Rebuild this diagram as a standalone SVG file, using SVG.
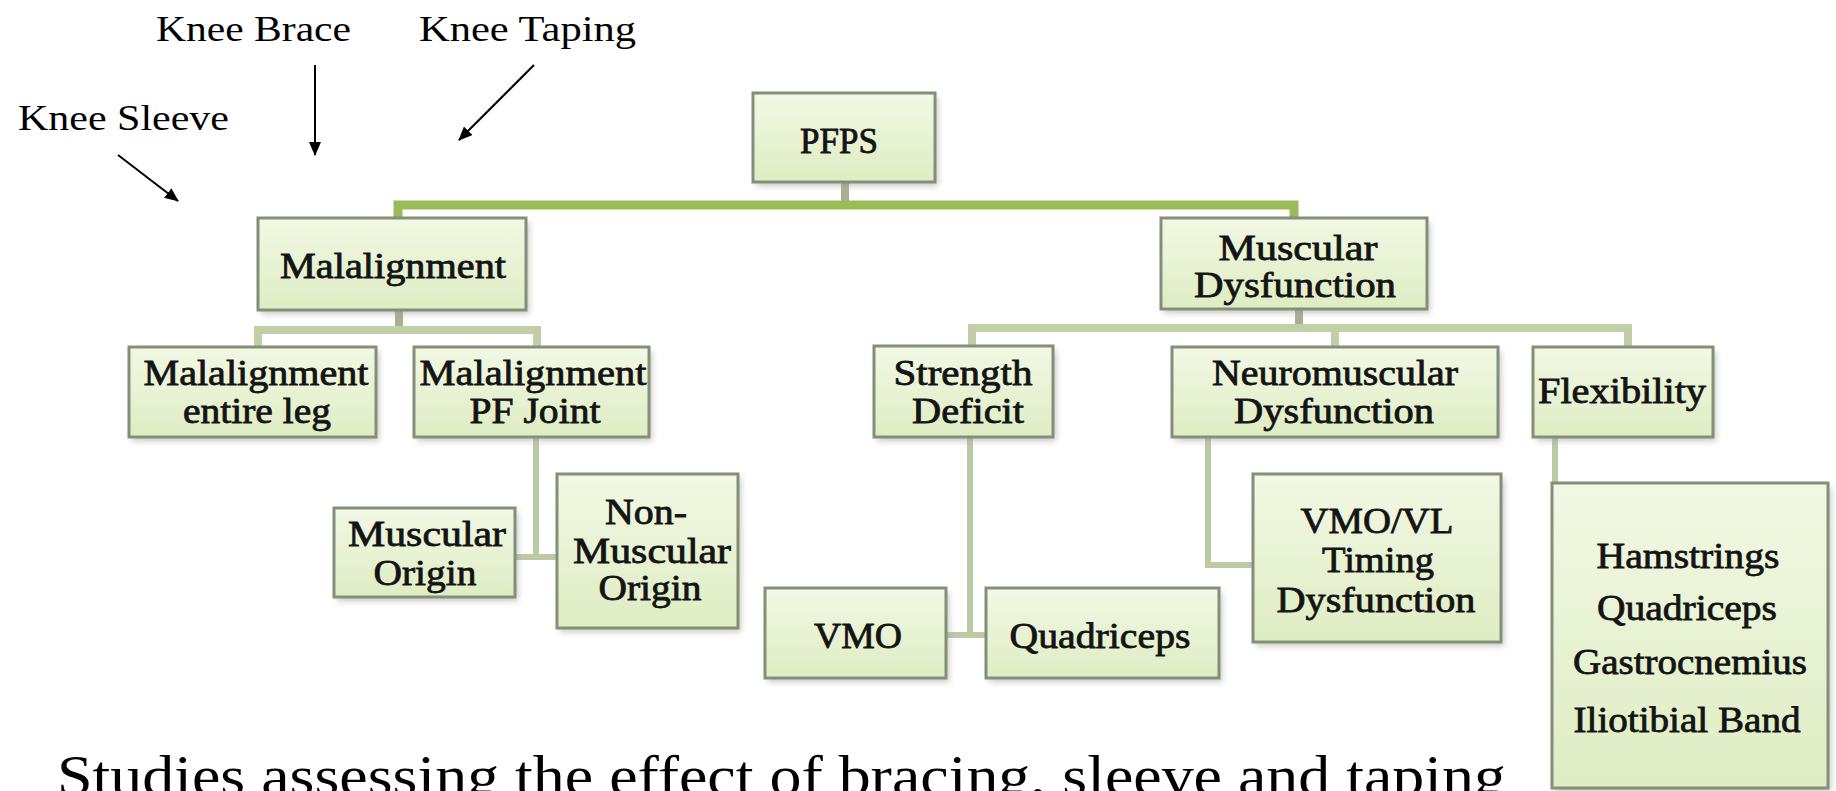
<svg xmlns="http://www.w3.org/2000/svg" width="1836" height="791" viewBox="0 0 1836 791">
<defs>
  <linearGradient id="boxFill" x1="0" y1="0" x2="0" y2="1">
    <stop offset="0" stop-color="#f2f8e4"/>
    <stop offset="1" stop-color="#deedc3"/>
  </linearGradient>
  <filter id="shadow" x="-10%" y="-10%" width="130%" height="130%">
    <feGaussianBlur stdDeviation="3"/>
  </filter>
  <marker id="arrow" viewBox="0 0 14 12" refX="13" refY="6" markerWidth="14" markerHeight="12" markerUnits="userSpaceOnUse" orient="auto">
    <path d="M0,0 L14,6 L0,12 Z" fill="#000"/>
  </marker>
</defs>
<style>
  .box { fill: url(#boxFill); stroke: #848f7a; stroke-width: 3; }
  .shd { fill: #9a9a90; opacity: 0.55; filter: url(#shadow); }
  .lbl { font-family: "Liberation Serif", "Times New Roman", serif; font-size: 36px; fill: #141414; stroke: #141414; stroke-width: 0.8; text-anchor: middle; }
  .top { font-family: "Liberation Serif", "Times New Roman", serif; font-size: 35px; fill: #000; }
  .big { font-family: "Liberation Serif", "Times New Roman", serif; font-size: 56px; fill: #000; }
  .c1 { stroke: #9bbb59; stroke-width: 9; fill: none; }
  .c2 { stroke: #c2cfa6; stroke-width: 8; fill: none; }
  .c3 { stroke: #bccaa4; stroke-width: 6; fill: none; }
  .stub { stroke: #a8b094; stroke-width: 8; fill: none; }
  .arr { stroke: #000; stroke-width: 2; fill: none; marker-end: url(#arrow); }
</style>
<rect x="0" y="0" width="1836" height="791" fill="#ffffff"/>

<g id="connectors">
  <line class="stub" x1="845" y1="182" x2="845" y2="205"/>
  <polyline class="c1" points="398,218 398,205 1294,205 1294,218"/>
  <line class="stub" x1="399" y1="310" x2="399" y2="330"/>
  <polyline class="c2" points="258,347 258,330 537,330 537,347"/>
  <line class="stub" x1="1299" y1="309" x2="1299" y2="328"/>
  <polyline class="c2" points="972,347 972,328 1628,328 1628,347"/>
  <line class="c2" x1="1335" y1="328" x2="1335" y2="347"/>
  <polyline class="c3" points="536,437 536,557 515,557"/>
  <line class="c3" x1="536" y1="557" x2="557" y2="557"/>
  <polyline class="c3" points="970,437 970,635 946,635"/>
  <line class="c3" x1="970" y1="635" x2="986" y2="635"/>
  <polyline class="c3" points="1208,437 1208,565 1253,565"/>
  <line class="c3" x1="1555" y1="437" x2="1555" y2="483"/>
</g>

<g id="pfps">
  <rect class="shd" x="756" y="97" width="182" height="89"/>
  <rect class="box" x="753" y="93" width="182" height="89"/>
  <text class="lbl" x="839" y="153" textLength="78" lengthAdjust="spacingAndGlyphs">PFPS</text>
</g>
<g id="malalignment">
  <rect class="shd" x="261" y="222" width="268" height="92"/>
  <rect class="box" x="258" y="218" width="268" height="92"/>
  <text class="lbl" x="393" y="278" textLength="226" lengthAdjust="spacingAndGlyphs">Malalignment</text>
</g>
<g id="muscular-dysfunction">
  <rect class="shd" x="1164" y="222" width="266" height="91"/>
  <rect class="box" x="1161" y="218" width="266" height="91"/>
  <text class="lbl" x="1298" y="260" textLength="159" lengthAdjust="spacingAndGlyphs">Muscular</text>
  <text class="lbl" x="1295" y="297" textLength="202" lengthAdjust="spacingAndGlyphs">Dysfunction</text>
</g>
<g id="malalignment-entire-leg">
  <rect class="shd" x="132" y="351" width="247" height="90"/>
  <rect class="box" x="129" y="347" width="247" height="90"/>
  <text class="lbl" x="256" y="385" textLength="225" lengthAdjust="spacingAndGlyphs">Malalignment</text>
  <text class="lbl" x="257" y="423" textLength="148" lengthAdjust="spacingAndGlyphs">entire leg</text>
</g>
<g id="malalignment-pf-joint">
  <rect class="shd" x="417" y="351" width="235" height="90"/>
  <rect class="box" x="414" y="347" width="235" height="90"/>
  <text class="lbl" x="533" y="385" textLength="227" lengthAdjust="spacingAndGlyphs">Malalignment</text>
  <text class="lbl" x="535" y="423" textLength="131" lengthAdjust="spacingAndGlyphs">PF Joint</text>
</g>
<g id="muscular-origin">
  <rect class="shd" x="337" y="512" width="181" height="89"/>
  <rect class="box" x="334" y="508" width="181" height="89"/>
  <text class="lbl" x="427" y="546" textLength="158" lengthAdjust="spacingAndGlyphs">Muscular</text>
  <text class="lbl" x="425" y="585" textLength="103" lengthAdjust="spacingAndGlyphs">Origin</text>
</g>
<g id="non-muscular-origin">
  <rect class="shd" x="560" y="478" width="181" height="154"/>
  <rect class="box" x="557" y="474" width="181" height="154"/>
  <text class="lbl" x="646" y="524" textLength="82" lengthAdjust="spacingAndGlyphs">Non-</text>
  <text class="lbl" x="652" y="563" textLength="158" lengthAdjust="spacingAndGlyphs">Muscular</text>
  <text class="lbl" x="650" y="600" textLength="103" lengthAdjust="spacingAndGlyphs">Origin</text>
</g>
<g id="strength-deficit">
  <rect class="shd" x="877" y="350" width="179" height="91"/>
  <rect class="box" x="874" y="346" width="179" height="91"/>
  <text class="lbl" x="963" y="385" textLength="139" lengthAdjust="spacingAndGlyphs">Strength</text>
  <text class="lbl" x="968" y="423" textLength="112" lengthAdjust="spacingAndGlyphs">Deficit</text>
</g>
<g id="neuromuscular-dysfunction">
  <rect class="shd" x="1175" y="351" width="326" height="90"/>
  <rect class="box" x="1172" y="347" width="326" height="90"/>
  <text class="lbl" x="1335" y="385" textLength="246" lengthAdjust="spacingAndGlyphs">Neuromuscular</text>
  <text class="lbl" x="1334" y="423" textLength="200" lengthAdjust="spacingAndGlyphs">Dysfunction</text>
</g>
<g id="flexibility">
  <rect class="shd" x="1536" y="351" width="180" height="90"/>
  <rect class="box" x="1533" y="347" width="180" height="90"/>
  <text class="lbl" x="1622" y="403" textLength="168" lengthAdjust="spacingAndGlyphs">Flexibility</text>
</g>
<g id="vmo">
  <rect class="shd" x="768" y="592" width="181" height="90"/>
  <rect class="box" x="765" y="588" width="181" height="90"/>
  <text class="lbl" x="858" y="648" textLength="88" lengthAdjust="spacingAndGlyphs">VMO</text>
</g>
<g id="quadriceps">
  <rect class="shd" x="989" y="592" width="233" height="90"/>
  <rect class="box" x="986" y="588" width="233" height="90"/>
  <text class="lbl" x="1100" y="648" textLength="181" lengthAdjust="spacingAndGlyphs">Quadriceps</text>
</g>
<g id="vmo-vl-timing">
  <rect class="shd" x="1256" y="478" width="248" height="168"/>
  <rect class="box" x="1253" y="474" width="248" height="168"/>
  <text class="lbl" x="1377" y="533" textLength="153" lengthAdjust="spacingAndGlyphs">VMO/VL</text>
  <text class="lbl" x="1378" y="572" textLength="112" lengthAdjust="spacingAndGlyphs">Timing</text>
  <text class="lbl" x="1376" y="612" textLength="199" lengthAdjust="spacingAndGlyphs">Dysfunction</text>
</g>
<g id="flexibility-muscles">
  <rect class="shd" x="1555" y="487" width="276" height="305"/>
  <rect class="box" x="1552" y="483" width="276" height="305"/>
  <text class="lbl" x="1688" y="568" textLength="183" lengthAdjust="spacingAndGlyphs">Hamstrings</text>
  <text class="lbl" x="1687" y="620" textLength="180" lengthAdjust="spacingAndGlyphs">Quadriceps</text>
  <text class="lbl" x="1690" y="674" textLength="234" lengthAdjust="spacingAndGlyphs">Gastrocnemius</text>
  <text class="lbl" x="1687" y="732" textLength="227" lengthAdjust="spacingAndGlyphs">Iliotibial Band</text>
</g>

<g id="annotations">
  <text class="top" x="156" y="41" textLength="195" lengthAdjust="spacingAndGlyphs">Knee Brace</text>
  <text class="top" x="419" y="41" textLength="217" lengthAdjust="spacingAndGlyphs">Knee Taping</text>
  <text class="top" x="18" y="130" textLength="211" lengthAdjust="spacingAndGlyphs">Knee Sleeve</text>
  <line class="arr" x1="315" y1="65" x2="315" y2="155"/>
  <line class="arr" x1="534" y1="65" x2="459" y2="140"/>
  <line class="arr" x1="118" y1="155" x2="178" y2="201"/>
  <text class="big" x="57" y="795" textLength="1449" lengthAdjust="spacingAndGlyphs">Studies assessing the effect of bracing, sleeve and taping</text>
</g>
</svg>
